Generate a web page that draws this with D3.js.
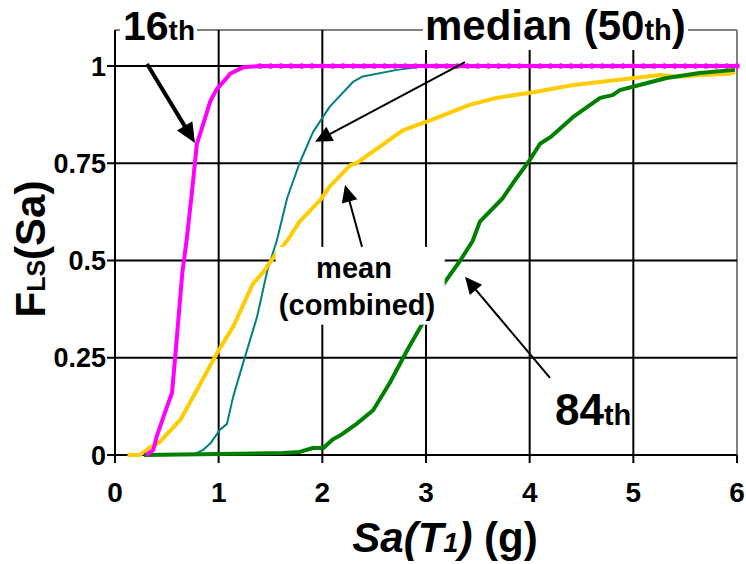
<!DOCTYPE html>
<html>
<head>
<meta charset="utf-8">
<script src="https://cdn.jsdelivr.net/npm/d3@7"></script>
<style>
  html, body { margin: 0; padding: 0; background: #fff; }
  svg { display: block; font-family: "Liberation Sans", Arial, sans-serif; font-weight: bold; }
</style>
</head>
<body>
<svg id="chart" width="746" height="564"></svg>
<script>
// Fragility curves F_LS(Sa) against Sa(T1) in g
const xTicks = [0, 1, 2, 3, 4, 5, 6];
const yTicks = [0, 0.25, 0.5, 0.75, 1];
const yTickLabels = ["0", "0.25", "0.5", "0.75", "1"];

// 16th percentile
const p16x = [0.3, 0.37, 0.4, 0.5, 0.55, 0.58, 0.65, 0.69, 0.74, 0.79, 0.85, 0.92, 0.98, 1.08, 1.11, 1.24,
  1.4, 1.5, 1.6, 1.7, 1.8, 1.9, 2.0, 2.1, 2.2, 2.3, 2.4, 2.5, 2.6, 2.7, 2.8, 2.9, 3.0, 3.1, 3.2, 3.3, 3.4,
  3.5, 3.6, 3.7, 3.8, 3.9, 4.0, 4.1, 4.2, 4.3, 4.4, 4.5, 4.6, 4.7, 4.8, 4.9, 5.0, 5.1, 5.2, 5.3, 5.4, 5.5,
  5.6, 5.7, 5.8, 5.9, 6.0];
const p16y = [0, 0.013, 0.046, 0.123, 0.16, 0.25, 0.47, 0.55, 0.67, 0.80, 0.85, 0.91, 0.94, 0.97, 0.98, 0.997,
  1, 1, 1, 1, 1, 1, 1, 1, 1, 1, 1, 1, 1, 1, 1, 1, 1, 1, 1, 1, 1, 1, 1, 1, 1, 1, 1, 1, 1, 1, 1, 1, 1, 1, 1,
  1, 1, 1, 1, 1, 1, 1, 1, 1, 1, 1, 1];

// median (50th)
const p50x = [0.3, 0.75, 0.85, 0.92, 1.01, 1.08, 1.14, 1.24, 1.37, 1.47, 1.56, 1.66, 1.78, 1.91, 2.07, 2.3, 2.39, 2.72, 3.0, 6.0];
const p50y = [0, 0, 0.013, 0.03, 0.064, 0.08, 0.15, 0.24, 0.355, 0.475, 0.55, 0.66, 0.75, 0.83, 0.895, 0.96, 0.973, 0.99, 1.0, 1.0];

// mean (combined)
const meanX = [0.12, 0.24, 0.34, 0.43, 0.63, 0.79, 0.98, 1.14, 1.33, 1.43, 1.56, 1.66, 1.78, 1.98, 2.07, 2.27, 2.33,
  2.78, 3.04, 3.42, 3.68, 4.05, 4.42, 4.84, 5.26, 5.45, 5.64, 5.93, 5.98];
const meanY = [0, 0, 0.02, 0.033, 0.09, 0.167, 0.26, 0.33, 0.44, 0.47, 0.52, 0.55, 0.60, 0.655, 0.69, 0.745, 0.75,
  0.835, 0.86, 0.90, 0.918, 0.933, 0.951, 0.964, 0.977, 0.972, 0.977, 0.98, 0.985];

// 84th percentile
const p84x = [0.28, 1.62, 1.78, 1.91, 2.01, 2.1, 2.17, 2.33, 2.49, 2.65, 2.82, 2.97, 3.17, 3.33, 3.45, 3.52, 3.74,
  3.86, 4.0, 4.1, 4.2, 4.42, 4.68, 4.8, 4.87, 5.06, 5.32, 5.64, 5.98];
const p84y = [0, 0.005, 0.008, 0.018, 0.018, 0.04, 0.05, 0.08, 0.115, 0.185, 0.27, 0.34, 0.44, 0.50, 0.55, 0.60, 0.66,
  0.707, 0.758, 0.80, 0.817, 0.869, 0.918, 0.925, 0.938, 0.951, 0.969, 0.982, 0.99];

const svg = d3.select("#chart");
const x = d3.scaleLinear().domain([0, 6]).range([115, 737]);
const y = d3.scaleLinear().domain([0, 1.0925]).range([455, 30]);

const zip = (xs, ys) => xs.map((v, i) => ({ x: v, y: ys[i] }));
const line = d3.line().x(d => x(d.x)).y(d => y(d.y));

// grid and frame
const g = svg.append("g");
g.append("line").attr("x1", x(0)).attr("x2", x(6)).attr("y1", y(1.0925)).attr("y2", y(1.0925))
  .attr("stroke", "#808080").attr("stroke-width", 2);
g.append("line").attr("x1", x(6)).attr("x2", x(6)).attr("y1", y(1.0925)).attr("y2", y(0))
  .attr("stroke", "#808080").attr("stroke-width", 2);
g.selectAll(".hg").data(yTicks).join("line")
  .attr("x1", x(0) - 8).attr("x2", x(6)).attr("y1", d => y(d)).attr("y2", d => y(d))
  .attr("stroke", "#000").attr("stroke-width", 2);
g.selectAll(".vg").data(xTicks.slice(0, 6)).join("line")
  .attr("x1", d => x(d)).attr("x2", d => x(d)).attr("y1", y(1.0925)).attr("y2", y(0) + 8)
  .attr("stroke", "#000").attr("stroke-width", 2);
g.append("line").attr("x1", x(6)).attr("x2", x(6)).attr("y1", y(0)).attr("y2", y(0) + 8)
  .attr("stroke", "#000").attr("stroke-width", 2);

// tick labels
svg.selectAll(".yl").data(yTicks).join("text")
  .attr("x", x(0) - 9).attr("y", d => y(d)).attr("dy", "0.36em")
  .attr("text-anchor", "end").attr("font-size", 27)
  .text((d, i) => yTickLabels[i]);
svg.selectAll(".xl").data(xTicks).join("text")
  .attr("x", d => x(d)).attr("y", 502)
  .attr("text-anchor", "middle").attr("font-size", 28)
  .text(d => d);

// curves
const series = [
  { pts: zip(p50x, p50y), color: "#008080", w: 2 },
  { pts: zip(meanX, meanY), color: "#FFCC00", w: 4 },
  { pts: zip(p84x, p84y), color: "#008000", w: 4 },
  { pts: zip(p16x, p16y), color: "#FF00FF", w: 4 }
];
series.forEach(s => {
  svg.append("path").datum(s.pts).attr("d", line)
    .attr("fill", "none").attr("stroke", s.color).attr("stroke-width", s.w)
    .attr("stroke-linejoin", "round");
});
// 16th-percentile markers along the plateau
svg.selectAll(".m16").data(zip(p16x, p16y).filter(d => d.y === 1)).join("circle")
  .attr("cx", d => x(d.x)).attr("cy", d => y(d.y)).attr("r", 2.8).attr("fill", "#FF00FF");

// label boxes
svg.append("rect").attr("x", 120).attr("y", 5).attr("width", 77).attr("height", 40).attr("fill", "#fff");
svg.append("rect").attr("x", 423).attr("y", 0).attr("width", 265).attr("height", 50).attr("fill", "#fff");
svg.append("rect").attr("x", x(1.55)).attr("y", y(0.535)).attr("width", x(3.18) - x(1.55))
  .attr("height", y(0.335) - y(0.535)).attr("fill", "#fff");

// arrows
const arrows = [
  { from: [0.309, 1.005], to: [0.772, 0.802], w: 4, head: 20, hw: 9 },
  { from: [3.376, 1.010], to: [1.93, 0.805], w: 2, head: 17, hw: 8 },
  { from: [2.383, 0.535], to: [2.219, 0.694], w: 2, head: 17, hw: 8 },
  { from: [4.196, 0.198], to: [3.376, 0.458], w: 2, head: 17, hw: 8 }
];
arrows.forEach(a => {
  const x1 = x(a.from[0]), y1 = y(a.from[1]), x2 = x(a.to[0]), y2 = y(a.to[1]);
  const dx = x2 - x1, dy = y2 - y1, len = Math.hypot(dx, dy);
  const ux = dx / len, uy = dy / len;
  const bx = x2 - ux * a.head, by = y2 - uy * a.head;
  svg.append("line").attr("x1", x1).attr("y1", y1).attr("x2", bx + ux * 2).attr("y2", by + uy * 2)
    .attr("stroke", "#000").attr("stroke-width", a.w);
  svg.append("polygon")
    .attr("points", [[x2, y2], [bx - uy * a.hw, by + ux * a.hw], [bx + uy * a.hw, by - ux * a.hw]].map(p => p.join(",")).join(" "))
    .attr("fill", "#000");
});

// annotations
function label(xp, yp, parts) {
  const t = svg.append("text").attr("x", xp).attr("y", yp);
  parts.forEach(p => t.append("tspan").attr("font-size", p[1]).text(p[0]));
  return t;
}
label(123, 40, [["16", 41], ["th", 28]]);
label(425, 40, [["median (50", 42], ["th", 29], [")", 42]]);
label(555, 425, [["84", 44], ["th", 29]]);
svg.append("text").attr("x", 354).attr("y", 278).attr("text-anchor", "middle").attr("font-size", 29).text("mean");
svg.append("text").attr("x", 357).attr("y", 315).attr("text-anchor", "middle").attr("font-size", 29).text("(combined)");

// axis titles
const xt = svg.append("text").attr("x", 445).attr("y", 552).attr("text-anchor", "middle").attr("font-size", 42);
xt.append("tspan").attr("font-style", "italic").text("Sa(T");
xt.append("tspan").attr("font-style", "italic").attr("font-size", 27).text("1");
xt.append("tspan").attr("font-style", "italic").text(")");
xt.append("tspan").text(" (g)");

const yt = svg.append("text").attr("transform", "translate(45,249) rotate(-90)")
  .attr("text-anchor", "middle").attr("font-size", 42);
yt.append("tspan").text("F");
yt.append("tspan").attr("font-size", 25).text("LS");
yt.append("tspan").text("(Sa)");
</script>
</body>
</html>
